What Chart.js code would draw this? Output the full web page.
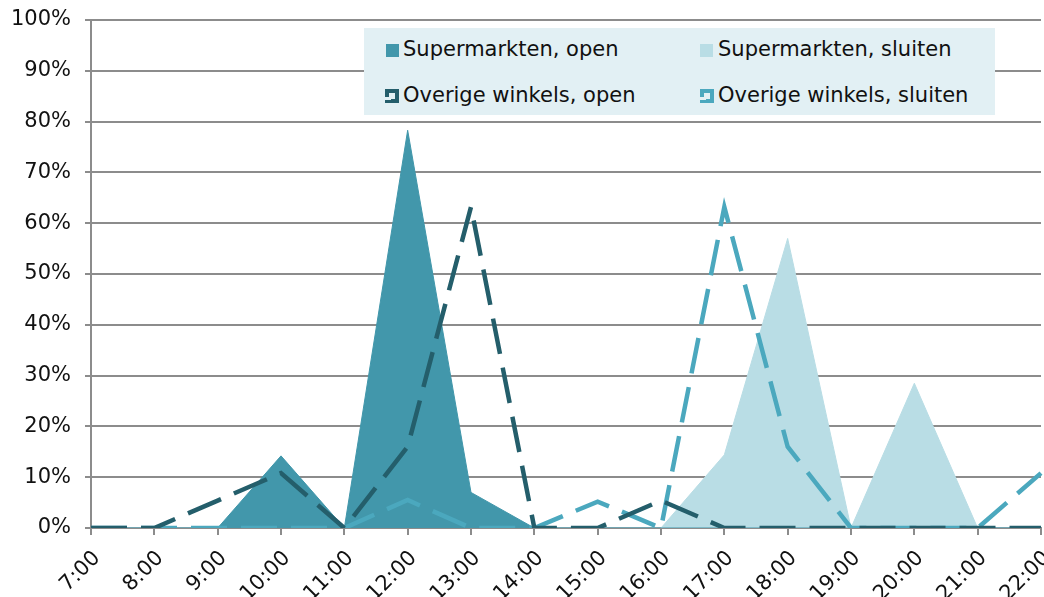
<!DOCTYPE html>
<html>
<head>
<meta charset="utf-8">
<script src="https://cdn.jsdelivr.net/npm/chart.js@4"></script>
<style>
  html, body { margin: 0; padding: 0; background: #fff; }
  #wrap { position: relative; width: 1044px; height: 597px; overflow: hidden; }
  #legend { position: absolute; left: 364px; top: 28px; width: 631px; height: 87px; background: #E2F0F4;
    font-family: "DejaVu Sans", Verdana, sans-serif; font-size: 21px; color: #111; }
  .sw { position: absolute; width: 13px; height: 13px; }
  .ln { position: absolute; width: 14px; height: 14px; box-sizing: border-box; border: 4px solid; }
  .ln::after { content: ""; position: absolute; left: -4px; bottom: -1px; width: 6px; height: 3px; background: #E2F0F4; }
  .tx { position: absolute; white-space: nowrap; }
</style>
</head>
<body>
<div id="wrap">
  <canvas id="c"></canvas>
  <div id="legend">
    <span class="sw" style="left:22px; top:16px; background:#4297AB"></span><span class="tx" style="left:39px; top:9px;">Supermarkten, open</span>
    <span class="sw" style="left:336px; top:16px; background:#B9DDE5"></span><span class="tx" style="left:354px; top:9px;">Supermarkten, sluiten</span>
    <span class="ln" style="left:21px; top:61px; border-color:#245E6B"></span><span class="tx" style="left:39px; top:55px;">Overige winkels, open</span>
    <span class="ln" style="left:336px; top:61px; border-color:#4BA8BE"></span><span class="tx" style="left:354px; top:55px;">Overige winkels, sluiten</span>
  </div>
</div>
<script>
const categories = ["7:00","8:00","9:00","10:00","11:00","12:00","13:00","14:00","15:00","16:00","17:00","18:00","19:00","20:00","21:00","22:00"];
const supermarktenOpen    = [0, 0, 0, 14.2, 0, 78.3, 7, 0, 0, 0, 0, 0, 0, 0, 0, 0];
const supermarktenSluiten = [0, 0, 0, 0, 0, 0, 0, 0, 0, 0, 14.4, 57, 0, 28.5, 0, 0];
const overigeOpen         = [0, 0, 5.4, 10.8, 0, 16, 63.2, 0, 0, 5.4, 0, 0, 0, 0, 0, 0];
const overigeSluiten      = [0, 0, 0, 0, 0, 5.5, 0, 0, 5.2, 0, 63.2, 16, 0, 0, 0, 10.8];
const yTicks = [0,10,20,30,40,50,60,70,80,90,100];

const font = { family: '"DejaVu Sans", Verdana, sans-serif', size: 21 };
const grey = '#8C8C8C';

new Chart(document.getElementById('c'), {
  type: 'line',
  data: {
    labels: categories,
    datasets: [
      { label: 'Overige winkels, open', data: overigeOpen, borderColor: '#245E6B', borderWidth: 4.5,
        borderDash: [36, 14], fill: false, pointRadius: 0, tension: 0, order: 1 },
      { label: 'Overige winkels, sluiten', data: overigeSluiten, borderColor: '#4BA8BE', borderWidth: 4.5,
        borderDash: [36, 14], fill: false, pointRadius: 0, tension: 0, order: 1 },
      { label: 'Supermarkten, open', data: supermarktenOpen, borderColor: '#4297AB', borderWidth: 1,
        backgroundColor: '#4297AB', fill: 'origin', pointRadius: 0, tension: 0, order: 2 },
      { label: 'Supermarkten, sluiten', data: supermarktenSluiten, borderColor: '#B9DDE5', borderWidth: 1,
        backgroundColor: '#B9DDE5', fill: 'origin', pointRadius: 0, tension: 0, order: 3 }
    ]
  },
  options: {
    responsive: true,
    maintainAspectRatio: false,
    animation: false,
    layout: { padding: { top: 20, right: 3, left: 0, bottom: 0 } },
    plugins: { legend: { display: false }, tooltip: { enabled: false } },
    scales: {
      x: {
        offset: false,
        grid: { display: true, drawOnChartArea: false, drawTicks: true, tickLength: 7, color: grey, lineWidth: 2 },
        border: { display: true, color: grey, width: 2 },
        ticks: { font: font, color: '#111', maxRotation: 45, minRotation: 45, autoSkip: false, padding: 11, labelOffset: 6 },
        afterFit: s => { s.height = 69; s.paddingLeft = 0; s.paddingRight = 0; }
      },
      y: {
        min: 0, max: 100,
        afterBuildTicks: s => { s.ticks = yTicks.map(v => ({ value: v })); },
        grid: { color: grey, lineWidth: 2, drawTicks: true, tickLength: 6 },
        border: { display: true, color: grey, width: 2 },
        ticks: { font: font, color: '#111', padding: 14, callback: v => v + '%' },
        afterFit: s => { s.width = 91; s.paddingTop = 0; s.paddingBottom = 0; }
      }
    }
  }
});
</script>
</body>
</html>
